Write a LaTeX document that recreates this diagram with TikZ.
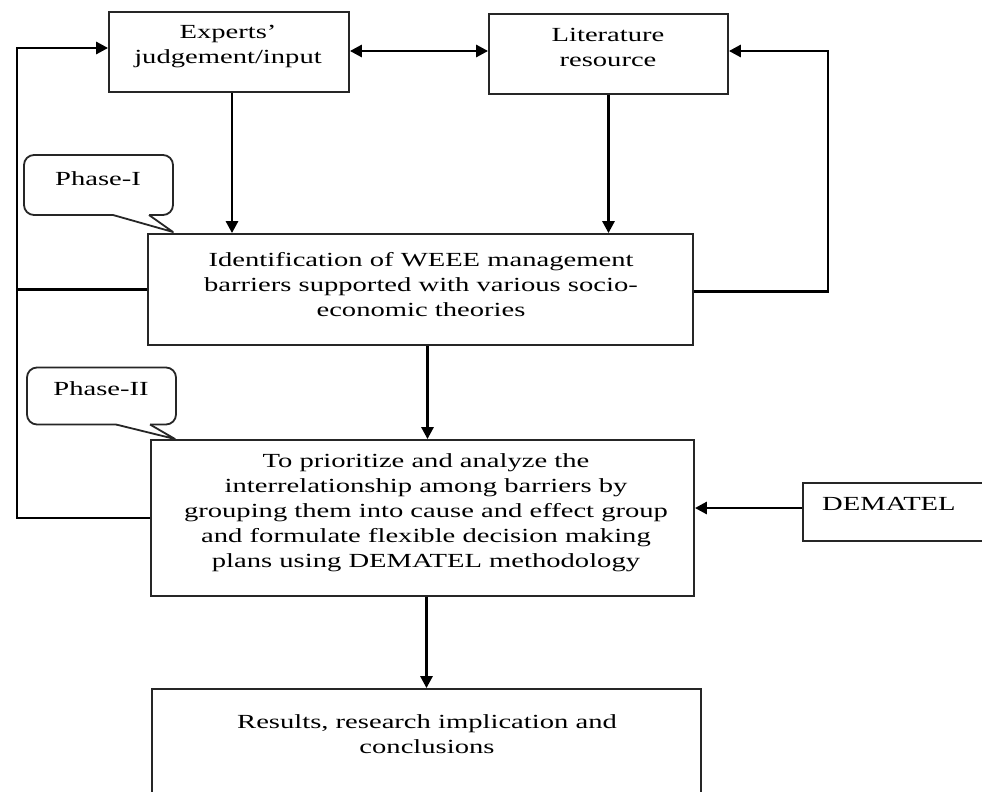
\documentclass[tikz,border=0pt]{standalone}
\usepackage{fontspec}
\setmainfont[FakeStretch=1.43]{Liberation Serif}
\usetikzlibrary{arrows.meta,calc}
\begin{document}
\begin{tikzpicture}[x=1pt,y=-1pt,
  box/.style={draw=black!85, line width=1.8pt, rectangle, inner sep=0pt},
  txt/.style={inner sep=0pt, anchor=north, align=center, font=\fontsize{20}{25}\selectfont},
  bubble/.style={draw=black!85, line width=1.8pt, rounded corners=10pt, inner sep=0pt},
  arr/.style={line width=2.8pt, -{Triangle[length=12pt,width=12pt]}},
  link/.style={line width=2.8pt}
]
\clip (0,0) rectangle (982,792);
\fill[white] (0,0) rectangle (982,792);

% process boxes
\node[box, minimum width=240pt, minimum height=80pt]  (exp) at (229,52)    {};
\node[box, minimum width=239pt, minimum height=80pt]  (lit) at (608.5,54)  {};
\node[box, minimum width=545pt, minimum height=111pt] (idn) at (420.5,289.5) {};
\node[box, minimum width=543pt, minimum height=156pt] (pri) at (422.5,518) {};
\node[box, minimum width=190pt, minimum height=58pt]  (dem) at (898,512)   {};
\node[box, minimum width=549pt, minimum height=120pt] (res) at (426.5,749) {};

% box texts
\node[txt] (expt) at (228,25)  {Experts’\\judgement/input};
\node[txt] (litt) at (608,28)  {Literature\\resource};
\node[txt] (idnt) at (421,252) {Identification of WEEE management\\barriers supported with various socio-\\economic theories};
\node[txt] (prit) at (426,453) {To prioritize and analyze the\\interrelationship among barriers by\\grouping them into cause and effect group\\and formulate flexible decision making\\plans using DEMATEL methodology};
\node[txt, anchor=north west] (demt) at (822,497.5) {DEMATEL};
\node[txt] (rest) at (427,714) {Results, research implication and\\conclusions};

% phase callouts
\node[bubble, minimum width=149pt, minimum height=60pt] (ph1) at (98.5,185) {};
\fill[white] (113,212) -- (149,212) -- (149,215) -- (173,232) -- (113,215) -- cycle;
\draw[draw=black!85, line width=1.8pt, line join=round] (113,215) -- (173,232) -- (149,215);
\node[txt] (ph1t) at (98,171) {Phase-I};

\node[bubble, minimum width=149pt, minimum height=57pt] (ph2) at (101.5,396) {};
\fill[white] (116,421) -- (150,421) -- (150,424.5) -- (175,439) -- (116,424.5) -- cycle;
\draw[draw=black!85, line width=1.8pt, line join=round] (116,424.5) -- (175,439) -- (150,424.5);
\node[txt] (ph2t) at (101,381) {Phase-II};

% helper points for the outer loops
\coordinate (lx) at (17,0);
\coordinate (rx) at (828,0);

% connectors
\draw[link, {Triangle[length=12pt,width=12pt]}-{Triangle[length=12pt,width=12pt]}]
  ([yshift=1pt]exp.east) -- ([yshift=1pt]exp.east -| lit.west);
\draw[arr] ([xshift=3pt]exp.south) -- ([xshift=3pt]exp.south |- idn.north);
\draw[arr] (lit.south) -- (lit.south |- idn.north);
\draw[arr] ([xshift=7pt]idn.south) -- ([xshift=7pt]idn.south |- pri.north);
\draw[arr] ([xshift=4pt]pri.south) -- ([xshift=4pt]pri.south |- res.north);
\draw[arr] ([yshift=4pt]dem.west) -- ([yshift=4pt]dem.west -| pri.east);
\draw[arr, line join=miter] (pri.west) -- (pri.west -| lx) |- ([yshift=4pt]exp.west);
\draw[link] (idn.west) -- (idn.west -| lx);
\draw[arr, line join=miter] ([yshift=-2pt]idn.east) -| (rx |- lit.east) -- ([yshift=3pt]rx |- lit.east) -- ([yshift=3pt]lit.east);
\end{tikzpicture}
\end{document}
